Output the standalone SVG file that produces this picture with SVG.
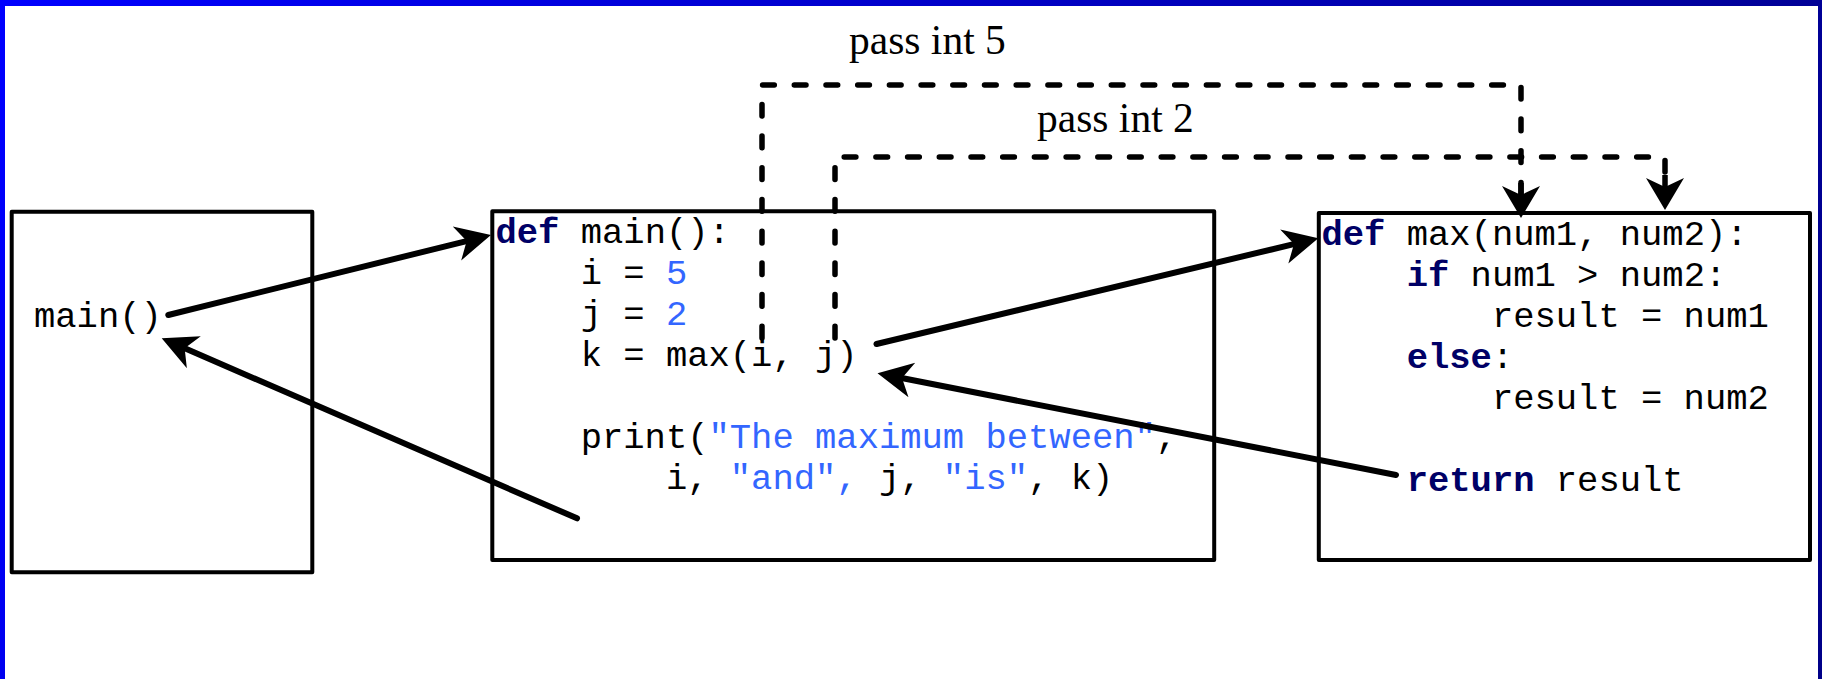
<svg xmlns="http://www.w3.org/2000/svg" width="1822" height="679" viewBox="0 0 1822 679">
<defs>
<linearGradient id="frameGrad" gradientUnits="userSpaceOnUse" x1="0" y1="0" x2="1822" y2="679">
<stop offset="0" stop-color="#0000ff"/>
<stop offset="1" stop-color="#000088"/>
</linearGradient>
<marker id="ah" markerUnits="userSpaceOnUse" orient="auto" refX="0" refY="0" markerWidth="80" markerHeight="80" overflow="visible">
<path d="M22,0 L-13,-17.5 L-3,0 L-13,17.5 Z" fill="#000"/>
</marker>
<marker id="dh" markerUnits="userSpaceOnUse" orient="auto" refX="0" refY="0" markerWidth="80" markerHeight="80" overflow="visible">
<path d="M17,0 L-15,-19 L-6,0 L-15,19 Z" fill="#000"/>
<rect x="-18" y="-2.75" width="18" height="5.5" fill="#000"/>
</marker>
<style>
.box{fill:#fff;stroke:#000;stroke-width:4;stroke-linejoin:round}
.code{font-family:"Liberation Mono","Courier New",monospace;font-size:35.5px;fill:#000;white-space:pre}
.kw{font-weight:bold;fill:#000066}
.num,.str{fill:#3366ff}
.lbl{font-family:"Liberation Serif","Times New Roman",serif;font-size:41.5px;fill:#000}
.arrow{fill:none;stroke:#000;stroke-width:6;stroke-linecap:round;marker-end:url(#ah)}
.dash{fill:none;stroke:#000;stroke-width:5.5;stroke-linecap:round;stroke-dasharray:11.7 20;marker-end:url(#dh)}
</style>
</defs>
<rect x="0" y="0" width="1822" height="679" fill="#fff"/>
<g id="frame" fill="url(#frameGrad)">
<rect x="0" y="0" width="1822" height="6"/>
<rect x="0" y="0" width="5" height="679"/>
<rect x="1818" y="0" width="4" height="679"/>
</g>
<g id="caller">
<rect class="box" x="11.7" y="211.7" width="300.6" height="360.6"/>
<text class="code" x="34" y="327">main()</text>
</g>
<g id="main-func">
<rect class="box" x="492.3" y="211.3" width="721.9" height="348.7"/>
<text class="code" y="243"><tspan x="495.5"><tspan class="kw">def</tspan> main():</tspan><tspan x="580.7" y="284">i = <tspan class="num">5</tspan></tspan><tspan x="580.7" y="325">j = <tspan class="num">2</tspan></tspan><tspan x="580.7" y="366">k = max(i, j)</tspan><tspan x="580.7" y="448">print(<tspan class="str">"The maximum between"</tspan>,</tspan><tspan x="665.9" y="489">i, <tspan class="str">"and",</tspan> j, <tspan class="str">"is"</tspan>, k)</tspan></text>
</g>
<g id="max-func">
<rect class="box" x="1318.8" y="213" width="491.2" height="347"/>
<text class="code" y="245"><tspan x="1321.5"><tspan class="kw">def</tspan> max(num1, num2):</tspan><tspan x="1406.7" y="286"><tspan class="kw">if</tspan> num1 &gt; num2:</tspan><tspan x="1491.9" y="327">result = num1</tspan><tspan x="1406.7" y="368"><tspan class="kw">else</tspan>:</tspan><tspan x="1491.9" y="409">result = num2</tspan><tspan x="1406.7" y="491"><tspan class="kw">return</tspan> result</tspan></text>
</g>
<g id="labels">
<text class="lbl" x="849" y="53.5">pass int 5</text>
<text class="lbl" x="1037" y="131.7">pass int 2</text>
</g>
<g id="connectors">
<line class="arrow" x1="168.3" y1="315" x2="469.6" y2="240.3"/>
<line class="arrow" x1="577" y1="518.3" x2="181.9" y2="347.1"/>
<line class="arrow" x1="876.5" y1="344" x2="1296.9" y2="243.4"/>
<line class="arrow" x1="1396" y1="475" x2="899.1" y2="377.5"/>
<path class="dash" d="M762,338 V85 H1521 V201"/>
<path class="dash" d="M835,338 V157 H1665 V193"/>
</g>
</svg>
